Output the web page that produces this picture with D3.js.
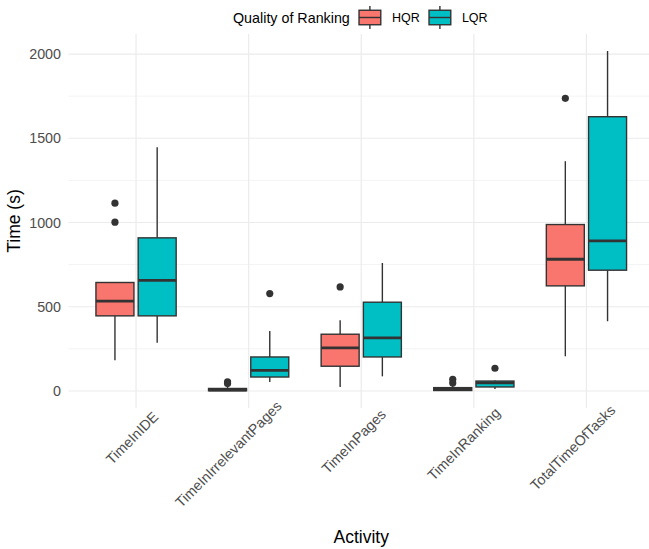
<!DOCTYPE html>
<html>
<head>
<meta charset="utf-8">
<script src="https://cdn.jsdelivr.net/npm/d3@7"></script>
<style>
  body { margin: 0; background: #fff; }
  svg { display: block; font-family: "Liberation Sans", Arial, sans-serif; }
</style>
</head>
<body>
<div id="chart"></div>
<script>
// ----- data -----
const categories = ["TimeInIDE", "TimeInIrrelevantPages", "TimeInPages", "TimeInRanking", "TotalTimeOfTasks"];
const groups = ["HQR", "LQR"];
const groupColors = ["#F8766D", "#00BFC4"];
const yTicks = [0, 500, 1000, 1500, 2000];
const yMinorTicks = [250, 750, 1250, 1750];

// HQR five-number summaries
const hqrLower  = [182, 0, 24, 0, 206];
const hqrQ1     = [446, 2, 147, 3, 624];
const hqrMedian = [533, 6, 256, 10, 782];
const hqrQ3     = [644, 15, 337, 20, 988];
const hqrUpper  = [644, 32, 420, 34, 1364];
const hqrOutliers = [[1115, 1002], [55, 44], [618], [69, 48], [1737]];

// LQR five-number summaries
const lqrLower  = [287, 53, 87, 12, 414];
const lqrQ1     = [446, 83, 202, 24, 717];
const lqrMedian = [656, 123, 315, 48, 891];
const lqrQ3     = [909, 202, 527, 59, 1628];
const lqrUpper  = [1446, 356, 760, 62, 2018];
const lqrOutliers = [[], [578], [], [135], []];

const width = 649, height = 549;
const margin = { top: 34, right: -5, bottom: 141, left: 68.5 };
const innerW = width - margin.left - margin.right;
const innerH = height - margin.top - margin.bottom;

const svg = d3.select("#chart").append("svg")
    .attr("width", width)
    .attr("height", height);

const g = svg.append("g")
    .attr("transform", `translate(${margin.left},${margin.top})`);

// scales (ggplot-like expansion: 0.6 on discrete, 5% on continuous)
const step = innerW / (categories.length - 1 + 1.2);
const x = d3.scalePoint().domain(categories).range([0.6 * step, innerW - 0.6 * step]);
const yMax = 2018, yMin = 0;
const pad = (yMax - yMin) * 0.05;
const y = d3.scaleLinear().domain([yMin - pad, yMax + pad]).range([innerH, 0]);

const slot = 0.75 * step / 2;
const boxW = slot * 0.9;

// grid
g.selectAll(".minor").data(yMinorTicks).enter().append("line")
    .attr("x1", 0).attr("x2", innerW)
    .attr("y1", d => y(d)).attr("y2", d => y(d))
    .style("stroke", "#ebebeb").style("stroke-width", 0.6);
g.selectAll(".major").data(yTicks).enter().append("line")
    .attr("x1", 0).attr("x2", innerW)
    .attr("y1", d => y(d)).attr("y2", d => y(d))
    .style("stroke", "#ebebeb").style("stroke-width", 1.2);
g.selectAll(".vmajor").data(categories).enter().append("line")
    .attr("x1", d => x(d)).attr("x2", d => x(d))
    .attr("y1", 0).attr("y2", innerH)
    .style("stroke", "#ebebeb").style("stroke-width", 1.2);

// build box rows
const rows = [];
categories.forEach((c, i) => {
    rows.push({ cat: c, grp: 0, lo: hqrLower[i], q1: hqrQ1[i], med: hqrMedian[i], q3: hqrQ3[i], hi: hqrUpper[i], out: hqrOutliers[i] });
    rows.push({ cat: c, grp: 1, lo: lqrLower[i], q1: lqrQ1[i], med: lqrMedian[i], q3: lqrQ3[i], hi: lqrUpper[i], out: lqrOutliers[i] });
});
const cx = d => x(d.cat) + (d.grp === 0 ? -slot / 2 : slot / 2);

const box = g.selectAll(".box").data(rows).enter().append("g");

box.append("line")
    .attr("x1", cx).attr("x2", cx)
    .attr("y1", d => y(d.q3)).attr("y2", d => y(d.hi))
    .style("stroke", "#333333").style("stroke-width", 1.4);
box.append("line")
    .attr("x1", cx).attr("x2", cx)
    .attr("y1", d => y(d.q1)).attr("y2", d => y(d.lo))
    .style("stroke", "#333333").style("stroke-width", 1.4);
box.append("rect")
    .attr("x", d => cx(d) - boxW / 2)
    .attr("width", boxW)
    .attr("y", d => y(d.q3))
    .attr("height", d => Math.max(0.5, y(d.q1) - y(d.q3)))
    .style("fill", d => groupColors[d.grp])
    .style("stroke", "#333333").style("stroke-width", 1.4);
box.append("line")
    .attr("x1", d => cx(d) - boxW / 2).attr("x2", d => cx(d) + boxW / 2)
    .attr("y1", d => y(d.med)).attr("y2", d => y(d.med))
    .style("stroke", "#333333").style("stroke-width", 2.8);
box.selectAll("circle")
    .data(d => d.out.map(v => ({ v: v, x: cx(d) })))
    .enter().append("circle")
    .attr("cx", d => d.x).attr("cy", d => y(d.v)).attr("r", 3.6)
    .style("fill", "#333333");

// y axis labels
const tickSize = 14.3;
g.selectAll(".ylab").data(yTicks).enter().append("text")
    .attr("x", -7.5).attr("y", d => y(d)).attr("dy", "0.35em")
    .attr("text-anchor", "end")
    .style("font-size", tickSize + "px").style("fill", "#4d4d4d")
    .text(d => d);

// x axis labels, rotated 45 (end sits a bit past the anchor, like the source)
g.selectAll(".xlab").data(categories).enter().append("text")
    .attr("transform", d => `translate(${x(d) + 6.5},${innerH + 12}) rotate(-45)`)
    .attr("y", tickSize * 0.716)
    .attr("text-anchor", "end")
    .style("font-size", tickSize + "px").style("fill", "#4d4d4d")
    .text(d => d)
    .attr("x", function () { return 0.2 * this.getComputedTextLength(); });

// axis titles
svg.append("text")
    .attr("transform", `translate(19.5,${margin.top + innerH / 2}) rotate(-90)`)
    .attr("text-anchor", "middle")
    .style("font-size", "17.5px").style("fill", "#000")
    .text("Time (s)");
svg.append("text")
    .attr("x", margin.left + innerW / 2).attr("y", 543)
    .attr("text-anchor", "middle")
    .style("font-size", "17.5px").style("fill", "#000")
    .text("Activity");

// legend
const legend = svg.append("g").attr("transform", "translate(233,3)");
const keySize = 29;
legend.append("text")
    .attr("x", 0).attr("y", keySize / 2).attr("dy", "0.35em")
    .style("font-size", "14.3px").style("fill", "#000")
    .text("Quality of Ranking");
const keyX = [122.4, 192.4];
const keys = legend.selectAll(".key").data(groups).enter().append("g")
    .attr("transform", (d, i) => `translate(${keyX[i]},0)`);
keys.append("line")
    .attr("x1", keySize / 2).attr("x2", keySize / 2)
    .attr("y1", keySize * 0.1).attr("y2", keySize * 0.9)
    .style("stroke", "#333333").style("stroke-width", 1.4);
keys.append("rect")
    .attr("x", keySize * 0.125).attr("width", keySize * 0.75)
    .attr("y", keySize * 0.25).attr("height", keySize * 0.5)
    .style("fill", (d, i) => groupColors[i])
    .style("stroke", "#333333").style("stroke-width", 1.4);
keys.append("line")
    .attr("x1", keySize * 0.125).attr("x2", keySize * 0.875)
    .attr("y1", keySize / 2).attr("y2", keySize / 2)
    .style("stroke", "#333333").style("stroke-width", 1.4);
keys.append("text")
    .attr("x", keySize + 7.5).attr("y", keySize / 2).attr("dy", "0.35em")
    .style("font-size", "12.5px").style("fill", "#000")
    .text(d => d);
</script>
</body>
</html>
